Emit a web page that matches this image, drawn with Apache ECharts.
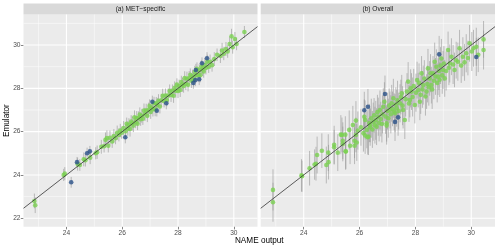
<!DOCTYPE html>
<html><head><meta charset="utf-8">
<script src="https://cdn.jsdelivr.net/npm/echarts@6/dist/echarts.min.js"></script>
<style>html,body{margin:0;padding:0;background:#fff}#c{width:500px;height:248px}</style>
</head><body><div id="c"></div>
<script>
// ---------- text / ticks ----------
const panelTitles = ['(a) MET\u2212specific', '(b) Overall'];
const xTitle = 'NAME output';
const yTitle = 'Emulator';
const xTickLabels = [24, 26, 28, 30];
const yTickLabels = [22, 24, 26, 28, 30];
const xMinorBreaks = [23, 25, 27, 29];
const yMinorBreaks = [23, 25, 27, 29, 31];

// ---------- panel (a) MET-specific ----------
const aGreenX = [22.85,22.88,23.90,23.94,24.40,24.48,24.62,24.68,24.85,25.05,25.10,25.25,25.35,25.40,25.45,25.50,25.56,25.64,25.70,25.76,25.82,25.88,25.93,25.98,26.05,26.12,26.16,26.20,26.24,26.28,26.32,26.36,26.40,26.44,26.48,26.52,26.55,26.59,26.63,26.66,26.70,26.74,26.78,26.82,26.86,26.90,26.94,26.98,27.02,27.06,27.10,27.14,27.18,27.22,27.26,27.30,27.35,27.40,27.45,27.50,27.55,27.60,27.65,27.70,27.75,27.80,27.84,27.88,27.92,27.96,28.00,28.04,28.08,28.12,28.16,28.20,28.24,28.28,28.32,28.36,28.40,28.44,28.48,28.52,28.56,28.60,28.64,28.68,28.72,28.76,28.80,28.84,28.88,28.92,28.96,29.00,29.05,29.10,29.15,29.22,29.30,29.40,29.52,29.58,29.64,29.72,29.78,29.85,29.92,29.96,30.04,30.10,30.38];
const aGreenY = [22.80,22.60,24.00,24.06,24.50,24.46,24.72,24.68,24.80,25.00,25.05,25.30,25.33,25.62,25.70,25.35,25.72,25.55,25.80,25.70,25.95,25.85,26.05,25.95,26.17,26.02,26.36,26.15,26.32,26.12,26.47,26.38,26.28,26.66,26.44,26.62,26.37,26.65,26.79,26.57,26.73,26.60,26.97,26.80,26.97,26.73,27.01,27.19,26.91,27.10,27.03,27.31,27.03,27.31,27.23,27.43,27.16,27.45,27.65,27.42,27.67,27.46,27.67,27.88,27.69,27.89,27.66,28.02,27.89,28.17,27.88,28.10,27.92,28.29,28.17,28.10,28.47,28.21,28.44,28.16,28.48,28.63,28.35,28.56,28.39,28.75,28.59,28.90,28.61,28.83,28.61,29.00,28.90,28.78,29.08,28.94,29.23,29.00,29.23,29.07,29.35,29.55,29.50,29.75,29.60,29.82,29.70,30.05,30.40,29.90,30.28,30.05,30.60];
const aGreenErr = [0.34,0.36,0.28,0.30,0.30,0.27,0.32,0.29,0.30,0.28,0.31,0.32,0.29,0.34,0.36,0.31,0.33,0.30,0.32,0.28,0.33,0.30,0.31,0.28,0.32,0.33,0.29,0.33,0.30,0.35,0.29,0.33,0.30,0.32,0.28,0.33,0.30,0.29,0.33,0.30,0.32,0.29,0.33,0.30,0.32,0.29,0.33,0.30,0.32,0.29,0.33,0.30,0.32,0.29,0.33,0.30,0.32,0.29,0.33,0.30,0.32,0.29,0.33,0.30,0.32,0.29,0.33,0.30,0.32,0.29,0.33,0.30,0.32,0.29,0.33,0.30,0.32,0.29,0.33,0.30,0.32,0.29,0.33,0.30,0.32,0.29,0.33,0.30,0.32,0.29,0.33,0.30,0.32,0.29,0.33,0.30,0.32,0.29,0.33,0.30,0.32,0.29,0.33,0.35,0.30,0.32,0.29,0.33,0.35,0.30,0.32,0.29,0.28];
const aBlueX = [24.17,24.38,24.74,24.84,26.11,27.08,27.24,27.58,28.55,28.62,28.76,28.64,28.86,29.04];
const aBlueY = [23.66,24.59,25.00,25.09,25.74,27.38,26.97,27.31,28.25,28.38,28.42,28.85,29.16,29.39];
const aBlueErr = [0.25,0.24,0.26,0.25,0.28,0.28,0.27,0.28,0.27,0.28,0.27,0.28,0.27,0.28];

// ---------- panel (b) Overall ----------
const bGreenX = [22.90,22.90,23.94,23.92,24.21,24.39,24.44,24.48,24.65,24.81,24.89,24.88,25.09,25.09,25.22,25.33,25.37,25.49,25.40,25.40,25.50,25.51,25.63,25.66,25.76,25.82,25.82,25.87,25.87,25.90,25.94,26.05,26.14,26.17,26.20,26.20,26.26,26.29,26.32,26.35,26.38,26.38,26.42,26.46,26.49,26.52,26.55,26.58,26.61,26.64,26.67,26.70,26.73,26.76,26.80,26.82,26.85,26.89,26.93,26.97,26.97,27.00,27.03,27.06,27.09,27.12,27.15,27.18,27.21,27.24,27.27,27.30,27.33,27.36,27.40,27.45,27.48,27.51,27.54,27.56,27.62,27.65,27.70,27.74,27.77,27.80,27.83,27.86,27.90,27.94,27.98,28.02,28.06,28.10,28.13,28.16,28.19,28.22,28.25,28.28,28.32,28.36,28.40,28.43,28.45,28.48,28.51,28.54,28.57,28.60,28.63,28.66,28.69,28.72,28.75,28.78,28.81,28.84,28.87,28.90,28.93,28.96,28.99,29.02,29.05,29.10,29.17,29.20,29.23,29.29,29.35,29.40,29.46,29.52,29.58,29.64,29.70,29.76,29.82,29.88,29.94,30.02,30.08,30.18,30.25,30.44,30.44];
const bGreenY = [23.31,22.74,23.94,23.98,24.31,24.48,24.52,24.92,25.12,24.46,24.59,25.03,25.39,25.28,25.03,25.86,25.85,25.86,25.58,25.43,25.09,25.08,26.08,25.35,26.31,25.58,25.35,26.51,25.85,25.50,26.05,26.20,25.93,26.69,25.82,26.54,26.08,25.74,25.77,26.40,26.20,26.31,26.62,26.10,26.46,26.75,26.30,26.52,26.23,26.90,26.69,26.40,27.00,26.58,26.35,26.80,27.15,27.38,26.70,26.39,26.28,26.95,26.62,27.20,27.00,26.80,27.31,27.05,27.54,26.92,26.85,27.25,27.08,27.45,26.95,27.31,27.60,27.77,27.20,27.00,26.54,27.50,27.85,28.31,27.30,27.46,28.00,27.85,27.60,28.10,27.23,27.80,28.38,27.92,28.25,27.38,27.70,28.69,27.95,28.15,28.45,27.62,27.85,28.20,28.92,28.05,28.46,28.70,28.15,27.95,28.69,28.35,29.23,28.55,29.00,28.25,28.54,28.80,28.40,29.05,29.38,28.60,28.85,29.15,28.46,28.80,29.77,28.95,29.15,29.46,29.10,28.85,29.30,29.23,29.85,29.05,29.46,29.20,29.62,29.40,30.08,29.70,29.85,29.92,29.55,30.26,29.77];
const bGreenErr = [0.95,0.90,0.72,0.75,0.80,0.70,0.78,0.85,0.80,0.85,0.80,0.85,0.88,0.80,0.85,0.90,0.80,0.85,0.85,0.80,0.85,0.80,0.90,0.85,0.88,0.80,0.85,0.90,0.80,0.85,0.88,0.85,0.85,0.80,0.85,0.90,0.85,0.80,0.85,0.88,0.85,0.80,0.90,0.85,0.88,0.80,0.85,0.90,0.85,0.80,0.88,0.85,0.90,0.80,0.85,0.88,0.85,0.90,0.80,0.85,0.88,0.85,0.90,0.80,0.85,0.88,0.85,0.80,0.90,0.85,0.88,0.80,0.85,0.90,0.85,0.88,0.80,0.85,0.90,0.85,0.88,0.80,0.85,0.90,0.85,0.80,0.88,0.85,0.90,0.80,0.85,0.88,0.85,0.80,0.90,0.85,0.88,0.80,0.85,0.90,0.85,0.88,0.80,0.85,0.90,0.85,0.80,0.88,0.85,0.90,0.80,0.85,0.88,0.85,0.80,0.90,0.85,0.88,0.80,0.85,0.90,0.85,0.88,0.80,0.85,0.90,0.85,0.80,0.88,0.85,0.90,0.80,0.85,0.88,0.85,0.80,0.90,0.85,0.88,0.80,0.85,0.90,0.85,0.88,0.80,0.85,0.90,0.85];
const bBlueX = [28.85,30.18,26.91,26.30,26.17,27.38,27.27];
const bBlueY = [29.57,29.45,27.74,27.15,26.99,26.66,26.45];
const bBlueErr = [0.85,0.88,0.85,0.82,0.85,0.85,0.88];

// ---------- layout / style ----------
const X_MIN = 22.46, X_MAX = 30.85, Y_MIN = 21.61, Y_MAX = 31.41;
const GREEN = '#7AD151', BLUE = '#2A5188';
const FONT = 'Liberation Sans, Arial, sans-serif';
const panels = [
  {left: 23.5, width: 234},
  {left: 260.7, width: 234.3}
];
const PTOP = 14.5, PH = 212.2;

function triples(xs, ys, es) { return xs.map((x, i) => [x, ys[i] - es[i], ys[i] + es[i]]); }
function pairs(xs, ys) { return xs.map((x, i) => [x, ys[i]]); }

function errRender(color) {
  return function (params, api) {
    const x = api.value(0), lo = api.value(1), hi = api.value(2);
    const p1 = api.coord([x, lo]), p2 = api.coord([x, hi]);
    return {type: 'line', shape: {x1: p1[0], y1: p1[1], x2: p2[0], y2: p2[1]},
      style: {stroke: color, lineWidth: 1}};
  };
}
function vGridRender(w) {
  return function (params, api) {
    const v = api.value(0);
    const p1 = api.coord([v, Y_MIN]), p2 = api.coord([v, Y_MAX]);
    return {type: 'line', shape: {x1: p1[0], y1: p1[1], x2: p2[0], y2: p2[1]},
      style: {stroke: '#FFFFFF', lineWidth: w}};
  };
}
function hGridRender(w) {
  return function (params, api) {
    const v = api.value(1);
    const p1 = api.coord([X_MIN, v]), p2 = api.coord([X_MAX, v]);
    return {type: 'line', shape: {x1: p1[0], y1: p1[1], x2: p2[0], y2: p2[1]},
      style: {stroke: '#FFFFFF', lineWidth: w}};
  };
}

const grids = panels.map(p => ({left: p.left, top: PTOP, width: p.width, height: PH,
  show: true, backgroundColor: '#EBEBEB', borderWidth: 0, containLabel: false}));

const xAxes = panels.map((p, i) => ({
  type: 'value', gridIndex: i, min: X_MIN, max: X_MAX,
  axisLine: {show: false}, splitLine: {show: false},
  axisTick: {show: true, length: 2.7, customValues: xTickLabels, lineStyle: {color: '#333333', width: 0.6}},
  axisLabel: {show: true, customValues: xTickLabels, color: '#4D4D4D', fontSize: 6.6, fontFamily: FONT, margin: 3}
}));
const yAxes = panels.map((p, i) => ({
  type: 'value', gridIndex: i, min: Y_MIN, max: Y_MAX,
  axisLine: {show: false}, splitLine: {show: false},
  axisTick: {show: i === 0, length: 2.7, customValues: yTickLabels, lineStyle: {color: '#333333', width: 0.6}},
  axisLabel: {show: i === 0, customValues: yTickLabels, color: '#4D4D4D', fontSize: 6.6, fontFamily: FONT, margin: 3}
}));

const series = [];
const sets = [
  {gx: aGreenX, gy: aGreenY, ge: aGreenErr, bx: aBlueX, by: aBlueY, be: aBlueErr},
  {gx: bGreenX, gy: bGreenY, ge: bGreenErr, bx: bBlueX, by: bBlueY, be: bBlueErr}
];
sets.forEach((s, i) => {
  const ax = {xAxisIndex: i, yAxisIndex: i};
  series.push(Object.assign({type: 'custom', z: 1, silent: true, renderItem: vGridRender(0.5),
    data: xMinorBreaks.map(v => [v, Y_MIN]), encode: {x: 0, y: 1}}, ax));
  series.push(Object.assign({type: 'custom', z: 1, silent: true, renderItem: hGridRender(0.5),
    data: yMinorBreaks.map(v => [X_MIN, v]), encode: {x: 0, y: 1}}, ax));
  series.push(Object.assign({type: 'custom', z: 1, silent: true, renderItem: vGridRender(1.1),
    data: xTickLabels.map(v => [v, Y_MIN]), encode: {x: 0, y: 1}}, ax));
  series.push(Object.assign({type: 'custom', z: 1, silent: true, renderItem: hGridRender(1.1),
    data: yTickLabels.map(v => [X_MIN, v]), encode: {x: 0, y: 1}}, ax));
  const errColor = i === 0 ? 'rgba(165,165,165,0.75)' : 'rgba(150,150,150,0.6)';
  series.push(Object.assign({type: 'custom', z: 2, silent: true, renderItem: errRender(errColor),
    data: triples(s.gx, s.gy, s.ge).concat(triples(s.bx, s.by, s.be)), encode: {x: 0, y: [1, 2]}}, ax));
  series.push(Object.assign({type: 'scatter', z: 3, silent: true, symbolSize: 4.6,
    itemStyle: {color: GREEN}, data: pairs(s.gx, s.gy)}, ax));
  series.push(Object.assign({type: 'scatter', z: 4, silent: true, symbolSize: 4.6,
    itemStyle: {color: BLUE}, data: pairs(s.bx, s.by)}, ax));
  series.push(Object.assign({type: 'line', z: 5, silent: true, symbol: 'none',
    lineStyle: {color: '#333333', width: 0.8}, data: [[X_MIN, X_MIN], [X_MAX, X_MAX]]}, ax));
});

const graphics = [];
panels.forEach((p, i) => {
  graphics.push({type: 'rect', shape: {x: p.left, y: 3.5, width: p.width, height: 11},
    style: {fill: '#D9D9D9'}, silent: true});
  graphics.push({type: 'text', x: p.left + p.width / 2, y: 9, silent: true,
    style: {text: panelTitles[i], fill: '#1A1A1A', font: '6.6px ' + FONT, align: 'center', verticalAlign: 'middle'}});
});
graphics.push({type: 'text', x: 259.3, y: 241, silent: true,
  style: {text: xTitle, fill: '#000000', font: '8.2px ' + FONT, align: 'center', verticalAlign: 'middle'}});
graphics.push({type: 'text', x: 7, y: PTOP + PH / 2, rotation: Math.PI / 2, silent: true,
  style: {text: yTitle, fill: '#000000', font: '8.2px ' + FONT, align: 'center', verticalAlign: 'middle'}});

const chart = echarts.init(document.getElementById('c'), null, {renderer: 'canvas'});
chart.setOption({
  animation: false,
  backgroundColor: '#FFFFFF',
  grid: grids, xAxis: xAxes, yAxis: yAxes, series: series, graphic: graphics
});
</script></body></html>
